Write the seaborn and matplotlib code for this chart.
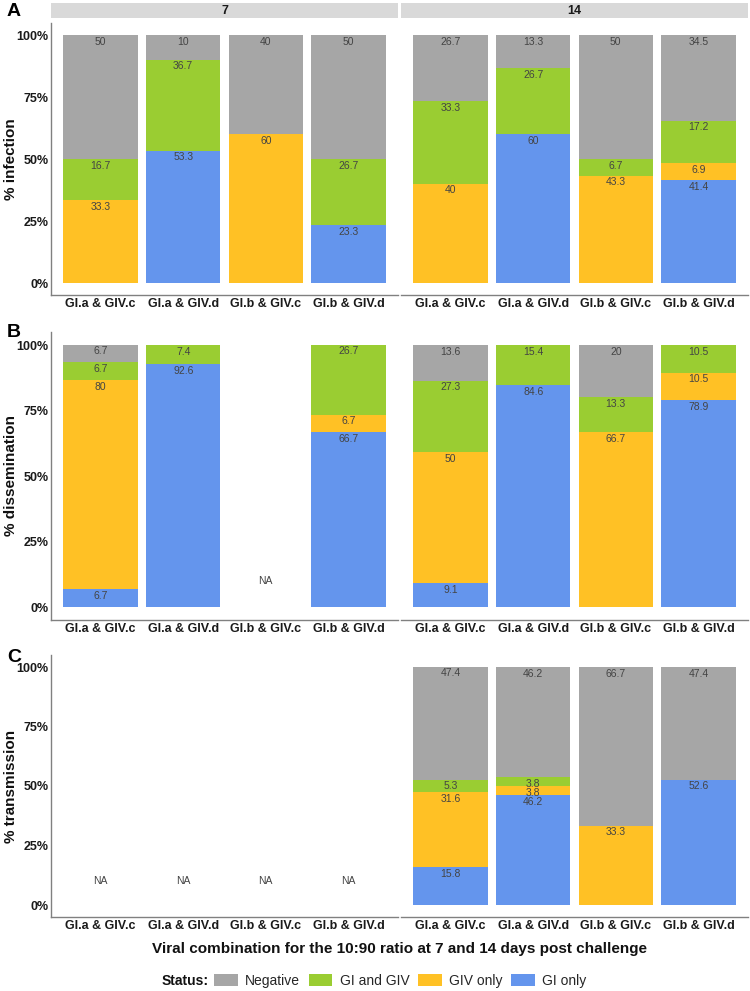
import matplotlib
matplotlib.use("Agg")
import matplotlib.pyplot as plt
from matplotlib.patches import Rectangle, Patch
import seaborn as sns
import pandas as pd
import numpy as np

sns.set_style("white")
plt.rcParams['font.family'] = ['Liberation Sans', 'DejaVu Sans']

nan = np.nan

# ---------------- data ----------------
combos = ["GI.a & GIV.c", "GI.a & GIV.d", "GI.b & GIV.c", "GI.b & GIV.d"]
statuses = ["Negative", "GI and GIV", "GIV only", "GI only"]
days = ["7", "14"]
measures = ["% infection", "% dissemination", "% transmission"]
tags = ["A", "B", "C"]
y_ticks = [0, 25, 50, 75, 100]
y_tick_labels = ["0%", "25%", "50%", "75%", "100%"]
status_colors = {"Negative": "#A6A6A6", "GI and GIV": "#9ACD32",
                 "GIV only": "#FFC125", "GI only": "#6495ED"}

infection_7 = {"Negative": [50, 10, 40, 50],
               "GI and GIV": [16.7, 36.7, 0, 26.7],
               "GIV only": [33.3, 0, 60, 0],
               "GI only": [0, 53.3, 0, 23.3]}
infection_14 = {"Negative": [26.7, 13.3, 50, 34.5],
                "GI and GIV": [33.3, 26.7, 6.7, 17.2],
                "GIV only": [40, 0, 43.3, 6.9],
                "GI only": [0, 60, 0, 41.4]}
dissemination_7 = {"Negative": [6.7, 0, nan, 0],
                   "GI and GIV": [6.7, 7.4, nan, 26.7],
                   "GIV only": [80, 0, nan, 6.7],
                   "GI only": [6.7, 92.6, nan, 66.7]}
dissemination_14 = {"Negative": [13.6, 0, 20, 0],
                    "GI and GIV": [27.3, 15.4, 13.3, 10.5],
                    "GIV only": [50, 0, 66.7, 10.5],
                    "GI only": [9.1, 84.6, 0, 78.9]}
transmission_7 = {"Negative": [nan, nan, nan, nan],
                  "GI and GIV": [nan, nan, nan, nan],
                  "GIV only": [nan, nan, nan, nan],
                  "GI only": [nan, nan, nan, nan]}
transmission_14 = {"Negative": [47.4, 46.2, 66.7, 47.4],
                   "GI and GIV": [5.3, 3.8, 0, 0],
                   "GIV only": [31.6, 3.8, 33.3, 0],
                   "GI only": [15.8, 46.2, 0, 52.6]}

panel_data = [[infection_7, infection_14],
              [dissemination_7, dissemination_14],
              [transmission_7, transmission_14]]

# ---------------- layout (pixels) ----------------
W, H = 750, 991
fig = plt.figure(figsize=(W / 100, H / 100), dpi=100)
fig.patch.set_facecolor("white")

rows = [(22.6, 295.4), (331.9, 620.1), (655.1, 916.9)]
cols = [(51, 398), (401, 748)]
tag_y = [11, 333, 658]
AX_COL = "#808080"
LBL_COL = "#444444"


def px_axes(x0, y0, x1, y1):
    return fig.add_axes([x0 / W, 1 - y1 / H, (x1 - x0) / W, (y1 - y0) / H])


for r in range(3):
    for c in range(2):
        ax = px_axes(cols[c][0], rows[r][0], cols[c][1], rows[r][1])
        vals = panel_data[r][c]
        recs = []
        labels = []
        na_pos = []
        for i, combo in enumerate(combos):
            if all(np.isnan(vals[s][i]) for s in statuses):
                na_pos.append(i)
                continue
            cum = 0.0
            for s in reversed(statuses):
                v = vals[s][i]
                cum += v
                recs.append({"combo": combo, "status": s, "top": cum})
                if v > 0:
                    labels.append((i, cum, f"{v:g}"))
        df = pd.DataFrame(recs)
        if len(df):
            sns.barplot(data=df, x="combo", y="top", hue="status",
                        order=combos, hue_order=statuses,
                        palette=status_colors, dodge=False, width=0.9,
                        saturation=1, errorbar=None, legend=False,
                        edgecolor="none", linewidth=0, ax=ax)
        for i, top, txt in labels:
            ax.annotate(txt, (i, top), xytext=(0, -1.2),
                        textcoords="offset points", ha="center", va="top",
                        fontsize=7.5, color=LBL_COL)
        for i in na_pos:
            ax.text(i, 10, "NA", ha="center", va="center",
                    fontsize=7.5, color=LBL_COL)

        ax.set_xlim(-0.6, 3.6)
        ax.set_ylim(-5, 105)
        ax.set_xticks(range(len(combos)))
        ax.set_xticklabels(combos)
        ax.set_xlabel("")
        ax.set_ylabel("")
        ax.set_yticks(y_ticks)
        if c == 0:
            ax.set_yticklabels(y_tick_labels)
        else:
            ax.set_yticklabels([])
        ax.tick_params(axis="x", length=0, pad=2.2, labelsize=9,
                       labelcolor="#1a1a1a")
        ax.tick_params(axis="y", length=0, pad=1.8, labelsize=9,
                       labelcolor="#1a1a1a")
        for lbl in ax.get_xticklabels() + ax.get_yticklabels():
            lbl.set_fontweight("bold")
        ax.grid(False)
        ax.set_facecolor("white")
        for sp in ["top", "right"]:
            ax.spines[sp].set_visible(False)
        ax.spines["left"].set_visible(c == 0)
        for sp in ["left", "bottom"]:
            ax.spines[sp].set_color(AX_COL)
            ax.spines[sp].set_linewidth(1.0)

    # y label and tag
    y0, y1 = rows[r]
    ymid = (y0 + y1) / 2
    fig.text(11 / W, 1 - ymid / H, measures[r], rotation=90, ha="center",
             va="center", fontsize=11, fontweight="bold", color="#111111")
    fig.text(14 / W, 1 - tag_y[r] / H, tags[r], ha="center", va="center",
             fontsize=14, fontweight="bold", color="black")

# strips
for c, day in enumerate(days):
    x0, x1 = cols[c]
    fig.add_artist(Rectangle((x0 / W, 1 - 18 / H), (x1 - x0) / W, 15 / H,
                             transform=fig.transFigure, facecolor="#D9D9D9",
                             edgecolor="none"))
    fig.text((x0 + x1) / 2 / W, 1 - 10.5 / H, day, ha="center", va="center",
             fontsize=9, fontweight="bold", color="#1a1a1a")

# x label
fig.text(399.5 / W, 1 - 949 / H,
         "Viral combination for the 10:90 ratio at 7 and 14 days post challenge",
         ha="center", va="center", fontsize=11, fontweight="bold",
         color="#111111")

# legend
fig.text(162 / W, 1 - 981 / H, "Status:", ha="left", va="center",
         fontsize=10, fontweight="bold", color="#111111")
handles = [Patch(facecolor=status_colors[s], edgecolor="none", label=s)
           for s in statuses]
fig.legend(handles=handles, loc="center left",
           bbox_to_anchor=(214 / W, 1 - 981 / H), ncol=4, frameon=False,
           fontsize=10, handlelength=1.7, handleheight=0.9,
           handletextpad=0.55, columnspacing=0.6, borderpad=0,
           borderaxespad=0)

fig.savefig("out.png", dpi=100, facecolor="white")
